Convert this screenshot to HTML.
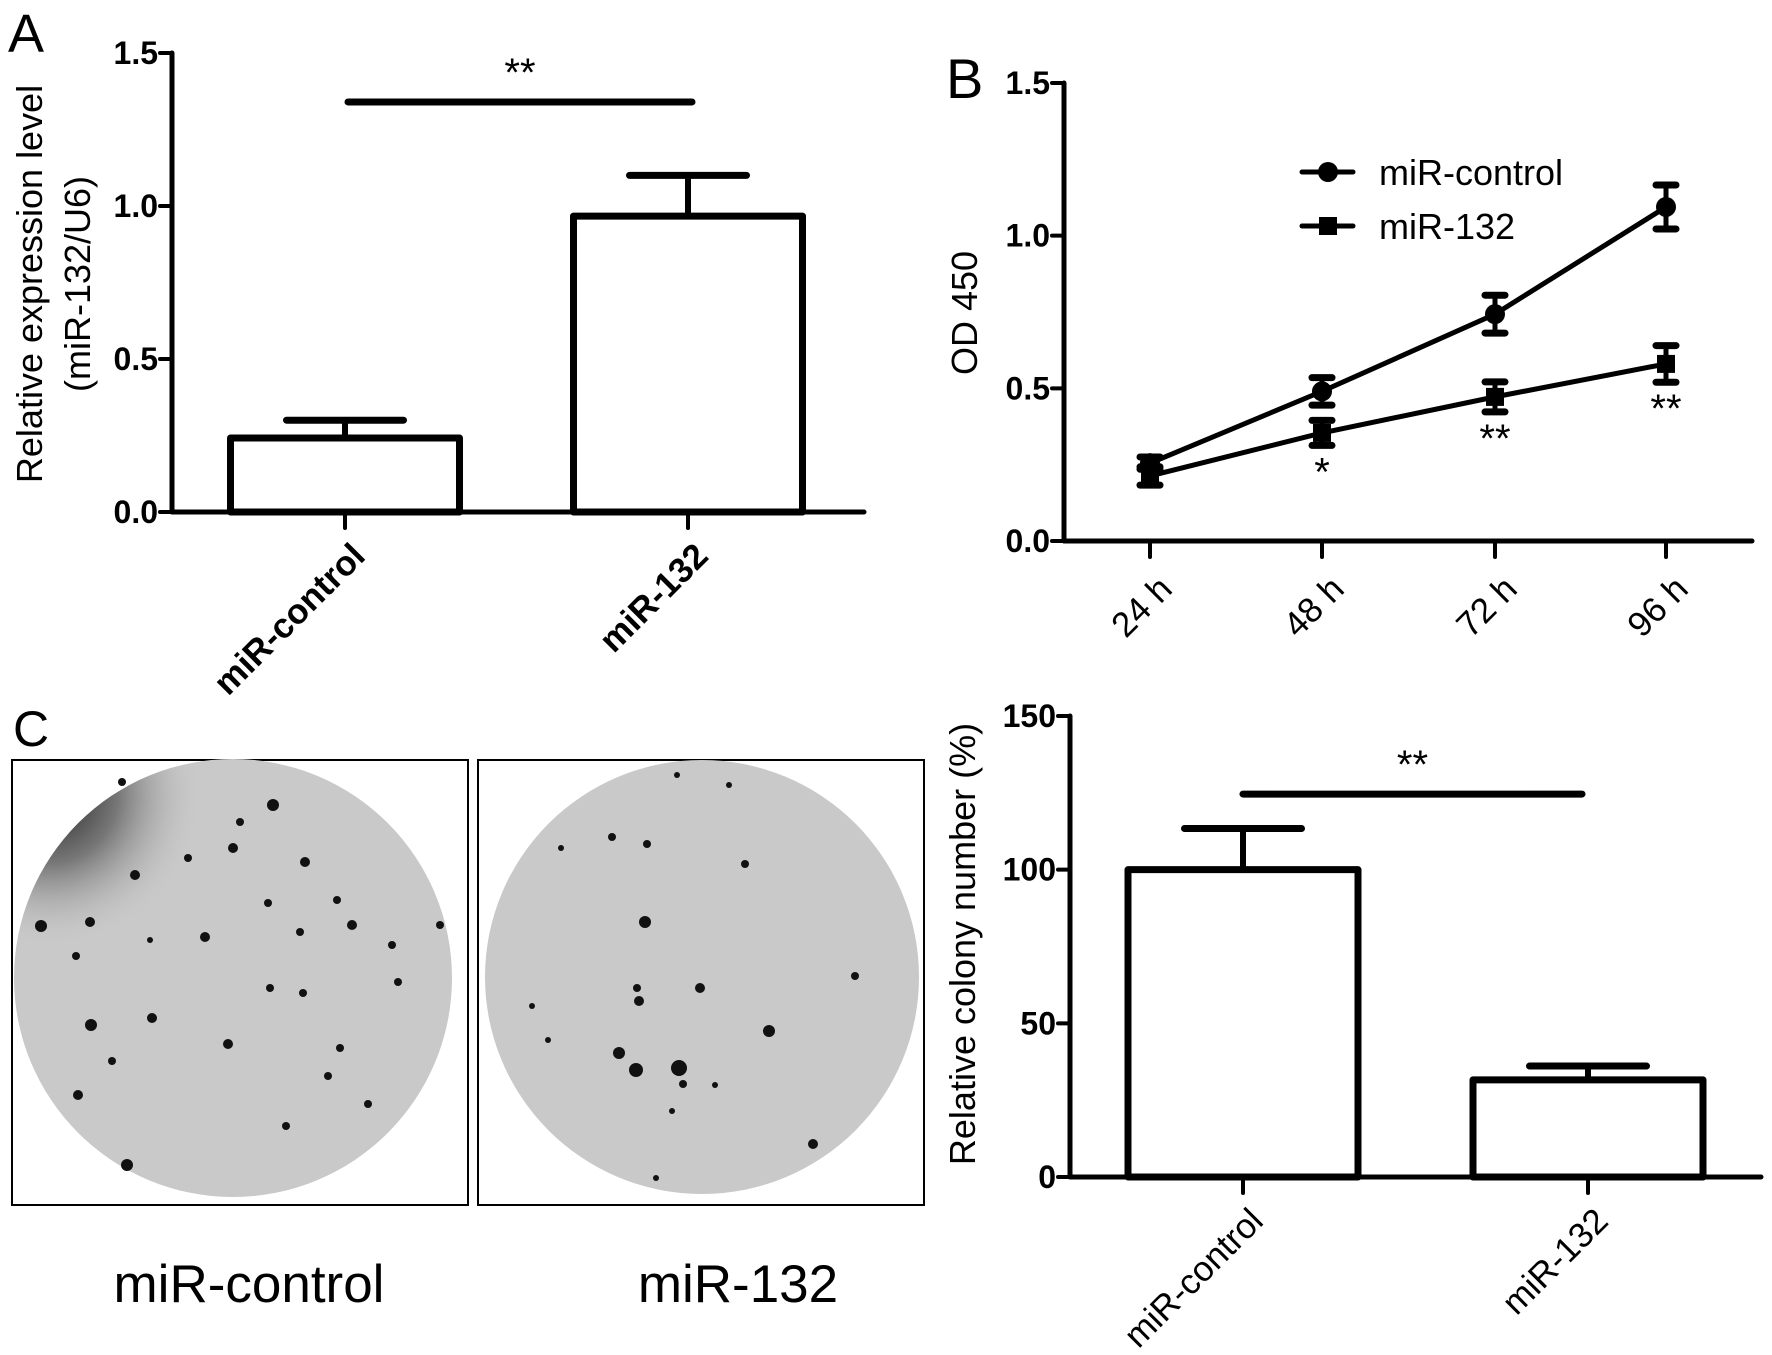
<!DOCTYPE html>
<html><head><meta charset="utf-8"><style>
html,body{margin:0;padding:0;background:#fff;}
svg{display:block;font-family:"Liberation Sans",Arial,sans-serif;}
</style></head><body>
<svg id="fig" width="1772" height="1355" viewBox="0 0 1772 1355" xmlns="http://www.w3.org/2000/svg">
<rect width="1772" height="1355" fill="#fff"/>
<text x="8" y="52" font-size="54">A</text>
<text x="946" y="98" font-size="56">B</text>
<text x="13" y="746" font-size="50">C</text>
<g id="gA"></g>
<g id="gB"></g>
<g id="gC"></g>
<g id="plates">
  <defs>
    <radialGradient id="shade" cx="0.08" cy="0.08" r="0.35">
      <stop offset="0" stop-color="#222"/>
      <stop offset="0.45" stop-color="#777"/>
      <stop offset="1" stop-color="#c8c8c8" stop-opacity="0"/>
    </radialGradient>
  </defs>
  <rect x="12" y="760" width="456" height="445" fill="#fff" stroke="#000" stroke-width="2"/>
  <circle cx="233" cy="978" r="219" fill="#c9c9c9"/>
  <circle cx="233" cy="978" r="219" fill="url(#shade)"/>
  <rect x="478" y="760" width="446" height="445" fill="#fff" stroke="#000" stroke-width="2"/>
  <circle cx="702" cy="977" r="217" fill="#c9c9c9"/>
  <g id="dots"></g>
  <text x="249" y="1302" font-size="53" text-anchor="middle">miR-control</text>
  <text x="738" y="1302" font-size="53" text-anchor="middle">miR-132</text>
</g>
</svg>
<script>
// ---- Panel A data ----
const aCategories = ["miR-control", "miR-132"];
const aValues = [0.242, 0.967];
const aErrors = [0.058, 0.133];
const aTicks = ["0.0", "0.5", "1.0", "1.5"];
const aTickValues = [0, 0.5, 1.0, 1.5];
const aSig = "**";
// ---- Panel B data ----
const bCategories = ["24 h", "48 h", "72 h", "96 h"];
const bControl = [0.255, 0.49, 0.743, 1.094];
const bControlErr = [0.02, 0.045, 0.062, 0.072];
const bMir132 = [0.213, 0.354, 0.472, 0.58];
const bMir132Err = [0.03, 0.041, 0.049, 0.06];
const bStars = ["", "*", "**", "**"];
const bTicks = ["0.0", "0.5", "1.0", "1.5"];
const bTickValues = [0, 0.5, 1.0, 1.5];
// ---- Panel C data ----
const cCategories = ["miR-control", "miR-132"];
const cValues = [100, 31.6];
const cErrors = [13.4, 4.5];
const cTicks = ["0", "50", "100", "150"];
const cTickValues = [0, 50, 100, 150];
const cSig = "**";

const NS = "http://www.w3.org/2000/svg";
function mk(parent, tag, attrs, text) {
  const e = document.createElementNS(NS, tag);
  for (const k in attrs) e.setAttribute(k, attrs[k]);
  if (text !== undefined) e.textContent = text;
  parent.appendChild(e);
  return e;
}
function line(p, x1, y1, x2, y2, w, name) {
  const e = mk(p, "line", {x1, y1, x2, y2, stroke: "#000", "stroke-width": w, "stroke-linecap": "round"});
  
  
  return e;
}

function barPanel(g, o) {
  const y = v => o.y0 - (v - o.vmin) / (o.vmax - o.vmin) * (o.y0 - o.y1);
  line(g, o.ax, y(o.vmax), o.ax, o.y0, 5, 'y-axis');
  line(g, o.ax, o.y0, o.xend, o.y0, 5, 'x-axis');
  o.tickValues.forEach((tv, i) => {
    line(g, o.ax - 12, y(tv), o.ax, y(tv), 4, 'y-tick');
    const t = mk(g, "text", {x: o.ax - 14, y: y(tv) + 11, "font-size": o.tickFont, "font-weight": "bold", "text-anchor": "end"}, o.ticks[i]);
    
    
  });
  o.cats.forEach((c, i) => {
    const cx = o.centers[i], hw = o.bw / 2;
    const r = mk(g, "rect", {x: cx - hw, y: y(o.vals[i]), width: o.bw, height: o.y0 - y(o.vals[i]), fill: "#fff", stroke: "#000", "stroke-width": 7, "stroke-linejoin": "round"});
    
    
    const et = y(o.vals[i] + o.errs[i]);
    line(g, cx, y(o.vals[i]), cx, et, 6, 'error-bar');
    line(g, cx - o.capw / 2, et, cx + o.capw / 2, et, 7, 'error-cap');
    line(g, cx, o.y0, cx, o.y0 + 16, 4, 'x-tick');
    const tx = cx + o.lblDx, ty = o.y0 + 16 + o.lblDy;
    const t = mk(g, "text", {x: tx, y: ty, "font-size": o.catFont, "font-weight": o.catWeight, "text-anchor": "end", transform: `rotate(-45 ${tx} ${ty})`}, c);
    
    
  });
  line(g, o.sigX1, y(o.sigV), o.sigX2, y(o.sigV), 7, 'significance-line');
  const s = mk(g, "text", {x: (o.sigX1 + o.sigX2) / 2, y: y(o.sigV) - 16, "font-size": 40, "text-anchor": "middle"}, o.sig);
  
  
  const yt = mk(g, "text", {x: 0, y: 0, "font-size": 36, "text-anchor": "middle", transform: `translate(${o.titleX} ${o.titleY}) rotate(-90)`});
  
  
  o.title.forEach((ln, i) => { mk(yt, "tspan", {x: 0, dy: i ? 48 : 0}, ln); });
}

barPanel(document.getElementById("gA"), {
  ax: 172, y0: 512, y1: 53, vmin: 0, vmax: 1.5, xend: 864,
  ticks: aTicks, tickValues: aTickValues, tickFont: 32,
  cats: aCategories, vals: aValues, errs: aErrors, centers: [345, 688], bw: 229, capw: 117,
  catFont: 35, catWeight: "bold", lblDx: 22, lblDy: 30,
  sigV: 1.34, sigX1: 348, sigX2: 692, sig: aSig,
  title: ["Relative expression level", "(miR-132/U6)"], titleX: 42, titleY: 284
});
barPanel(document.getElementById("gC"), {
  ax: 1070, y0: 1177, y1: 716, vmin: 0, vmax: 150, xend: 1761,
  ticks: cTicks, tickValues: cTickValues, tickFont: 32,
  cats: cCategories, vals: cValues, errs: cErrors, centers: [1243, 1588], bw: 230, capw: 117,
  catFont: 35, catWeight: "normal", lblDx: 22, lblDy: 30,
  sigV: 124.6, sigX1: 1243, sigX2: 1582, sig: cSig,
  title: ["Relative colony number (%)"], titleX: 975, titleY: 944
});

// Panel B line chart
(function () {
  const g = document.getElementById("gB");
  const ax = 1064, y0 = 541, y1 = 83, vmax = 1.5, xend = 1752;
  const xs = [1150, 1322, 1495, 1666];
  const y = v => y0 - v / vmax * (y0 - y1);
  line(g, ax, y(vmax), ax, y0, 5, 'y-axis');
  line(g, ax, y0, xend, y0, 5, 'x-axis');
  bTickValues.forEach((tv, i) => {
    line(g, ax - 12, y(tv), ax, y(tv), 4, 'y-tick');
    const t = mk(g, "text", {x: ax - 14, y: y(tv) + 11, "font-size": 32, "font-weight": "bold", "text-anchor": "end"}, bTicks[i]);
    
    
  });
  bCategories.forEach((c, i) => {
    line(g, xs[i], y0, xs[i], y0 + 16, 4, 'x-tick');
    const tx = xs[i] + 24, ty = y0 + 16 + 34;
    const t = mk(g, "text", {x: tx, y: ty, "font-size": 35, "text-anchor": "end", transform: `rotate(-45 ${tx} ${ty})`}, c);
    
    
  });
  function series(vals, errs, shape, name) {
    const pts = vals.map((v, i) => xs[i] + "," + y(v)).join(" ");
    const pl = mk(g, "polyline", {points: pts, fill: "none", stroke: "#000", "stroke-width": 5});
    
    
    vals.forEach((v, i) => {
      const t = y(v + errs[i]), b = y(v - errs[i]);
      line(g, xs[i], t, xs[i], b, 5, 'error-bar');
      line(g, xs[i] - 10, t, xs[i] + 10, t, 7, 'error-cap');
      line(g, xs[i] - 10, b, xs[i] + 10, b, 7, 'error-cap');
      let m;
      if (shape === "circle") m = mk(g, "circle", {cx: xs[i], cy: y(v), r: 10, fill: "#000"});
      else m = mk(g, "rect", {x: xs[i] - 9, y: y(v) - 9, width: 18, height: 18, fill: "#000"});
      
      
    });
  }
  series(bControl, bControlErr, "circle", "mir-control");
  series(bMir132, bMir132Err, "square", "mir-132");
  bStars.forEach((s, i) => {
    if (!s) return;
    const t = mk(g, "text", {x: xs[i], y: y(bMir132[i] - bMir132Err[i]) + 40, "font-size": 40, "text-anchor": "middle"}, s);
    
    
  });
  const lg = mk(g, "g", {});
  
  
  line(lg, 1302, 172, 1353, 172, 5, 'legend-line');
  mk(lg, "circle", {cx: 1328, cy: 172, r: 10, fill: "#000"});
  const l1 = mk(lg, "text", {x: 1379, y: 185, "font-size": 36}, "miR-control");
  
  
  line(lg, 1302, 226, 1353, 226, 5, 'legend-line');
  mk(lg, "rect", {x: 1319, y: 217, width: 18, height: 18, fill: "#000"});
  const l2 = mk(lg, "text", {x: 1379, y: 239, "font-size": 36}, "miR-132");
  
  
  const yt = mk(g, "text", {x: 0, y: 0, "font-size": 36, "text-anchor": "middle", transform: "translate(977 313) rotate(-90)"}, "OD 450");
  
  
})();

// decorative colony dots
(function () {
  const d = document.getElementById("dots");
  const L = [[170,750+0,0],[273,805,6],[233,848,5],[205,937,5],[135,875,5],[90,922,5],[41,926,6],[76,956,4],[268,903,4],[305,862,5],[337,900,4],[300,932,4],[352,925,5],[392,945,4],[440,925,4],[398,982,4],[303,993,4],[340,1048,4],[228,1044,5],[270,988,4],[152,1018,5],[91,1025,6],[112,1061,4],[78,1095,5],[328,1076,4],[368,1104,4],[127,1165,6],[286,1126,4],[240,822,4],[122,782,4],[188,858,4],[150,940,3]];
  L.forEach(p => { if (p[2]) { const c = mk(d, "circle", {cx: p[0], cy: p[1], r: p[2], fill: "#111"});   } });
  const R = [[677,775,3],[729,785,3],[612,837,4],[561,848,3],[647,844,4],[745,864,4],[645,922,6],[700,988,5],[637,988,4],[639,1001,5],[769,1031,6],[619,1053,6],[636,1070,7],[679,1068,8],[683,1084,4],[715,1085,3],[855,976,4],[813,1144,5],[656,1178,3],[532,1006,3],[548,1040,3],[672,1111,3]];
  R.forEach(p => { const c = mk(d, "circle", {cx: p[0], cy: p[1], r: p[2], fill: "#111"});   });
})();
</script>
</body></html>
